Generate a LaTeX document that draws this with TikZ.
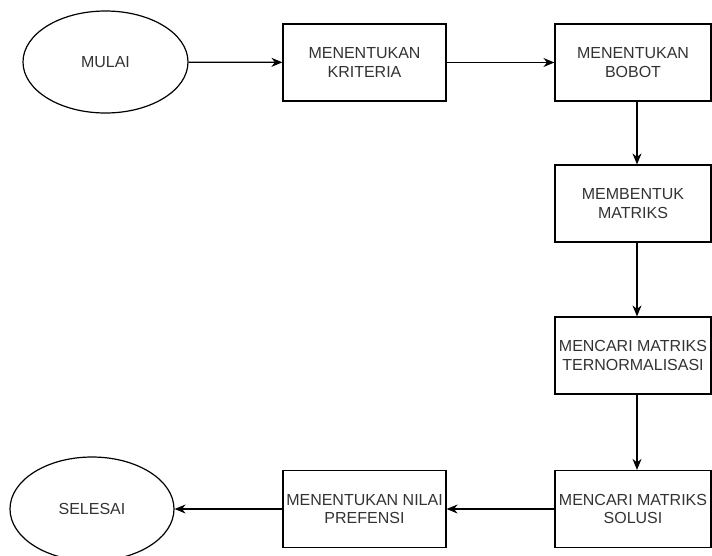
\documentclass[tikz,border=0pt]{standalone}
\usepackage{fontspec}
\setmainfont{Liberation Sans}
\usetikzlibrary{arrows.meta,shapes.geometric}
\definecolor{txt}{HTML}{333333}
\begin{document}
\begin{tikzpicture}[x=1pt,y=-1pt,
  box/.style={draw=black,line width=1.2pt,fill=white,minimum width=163pt,minimum height=77pt,inner sep=0pt,
    align=center,text=txt,font=\fontsize{16pt}{18.5pt}\selectfont},
  rbox/.style={box,minimum width=156pt},
  oval/.style={draw=black,line width=1.2pt,ellipse,minimum width=165pt,minimum height=102pt,inner sep=0pt,
    text=txt,font=\fontsize{16pt}{18.5pt}\selectfont},
  conn/.style={draw=black,line width=1.2pt,-{Stealth[length=11pt,width=9pt]}}]
\useasboundingbox (0,0) rectangle (712,555);
\node[oval] (mulai) at (105.5,62) {MULAI};
\node[box] (krit) at (364.5,62.5) {MENENTUKAN\\KRITERIA};
\node[rbox] (bobot) at (633,62.5) {MENENTUKAN\\BOBOT};
\node[rbox] (matriks) at (633,203.5) {MEMBENTUK\\MATRIKS};
\node[rbox] (norm) at (633,355.5) {MENCARI MATRIKS\\TERNORMALISASI};
\node[rbox] (solusi) at (633,509) {MENCARI MATRIKS\\SOLUSI};
\node[box] (pref) at (364.5,509) {MENENTUKAN NILAI\\PREFENSI};
\node[oval,minimum width=164pt,minimum height=104pt] (selesai) at (92,509) {SELESAI};
\draw[conn] (mulai) -- (krit);
\draw[conn] (krit) -- (bobot);
\draw[conn] ([xshift=4pt]bobot.south) -- ([xshift=4pt]matriks.north);
\draw[conn] ([xshift=4pt]matriks.south) -- ([xshift=4pt]norm.north);
\draw[conn] ([xshift=4pt]norm.south) -- ([xshift=4pt]solusi.north);
\draw[conn] (solusi) -- (pref);
\draw[conn] (pref) -- (selesai);
\end{tikzpicture}
\end{document}
